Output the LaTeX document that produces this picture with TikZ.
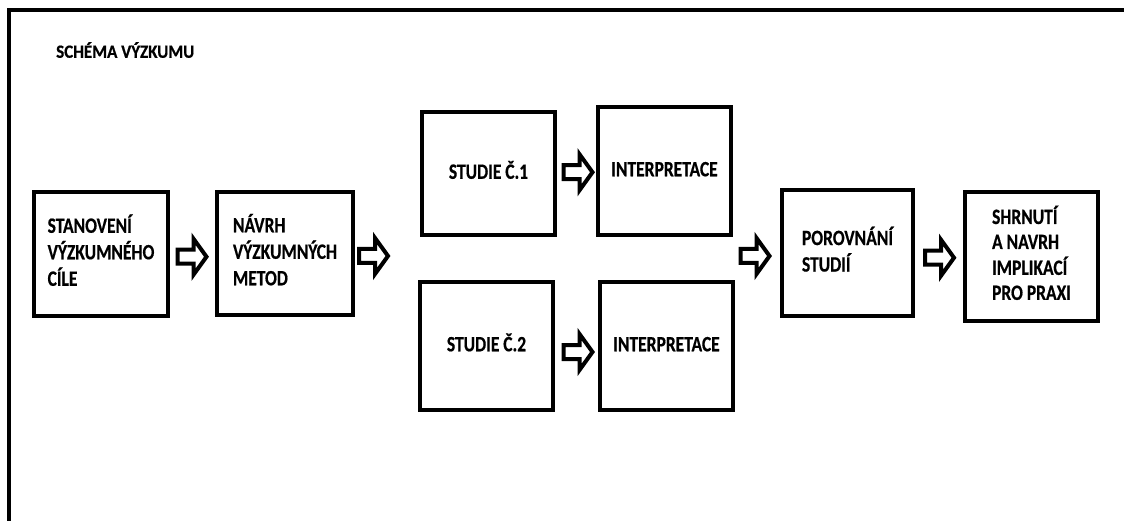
\documentclass[tikz,border=0pt]{standalone}
\usepackage{fontspec}
\usepackage{graphicx}
\setmainfont{Carlito}[BoldFeatures={FakeBold=0.6}]
\usetikzlibrary{calc}
\newcommand{\blockarrow}[1]{\draw[barrow] #1 ++(-15,-7) -- ++(16,0) -- ++(0,-11) -- ++(13,18) -- ++(-13,18) -- ++(0,-11) -- ++(-16,0) -- cycle;}
\newcommand{\tx}[1]{\scalebox{1}[1.25]{\begin{tabular}{@{}l@{}}#1\end{tabular}}}
\begin{document}
\begin{tikzpicture}[x=1pt,y=-1pt,
  box/.style={draw, line width=4pt, align=left, inner sep=0pt,
    font=\bfseries\fontsize{17.5}{21.2}\selectfont},
  barrow/.style={draw, line width=4pt, fill=white, line join=miter}]
\useasboundingbox (0,0) rectangle (1124,521);
\draw[line width=4.5pt] (9,521) -- (9,10) -- (1124,10);
\node[anchor=west, inner sep=0pt, font=\bfseries\fontsize{17}{20}\selectfont] (title) at (56,50) {\scalebox{1}[1.1]{SCHÉMA VÝZKUMU}};
\node[box, minimum width=134pt, minimum height=124pt] (b1) at (101,254) {\tx{STANOVENÍ\\VÝZKUMNÉHO\\CÍLE}};
\node[box, minimum width=136pt, minimum height=123pt] (b2) at (285,253.5) {\tx{NÁVRH\\VÝZKUMNÝCH\\METOD}};
\node[box, minimum width=133pt, minimum height=123pt] (s1) at (488.5,173.5) {\tx{STUDIE Č.1}};
\node[box, minimum width=133pt, minimum height=128pt] (i1) at (664.5,171) {\tx{INTERPRETACE}};
\node[box, minimum width=133pt, minimum height=128pt] (s2) at (486.5,346) {\tx{STUDIE Č.2}};
\node[box, minimum width=133pt, minimum height=128pt] (i2) at (666.5,346) {\tx{INTERPRETACE}};
\node[box, minimum width=131pt, minimum height=126pt] (p) at (847.5,253) {\tx{POROVNÁNÍ\\STUDIÍ}};
\node[box, minimum width=133pt, minimum height=129pt, font=\bfseries\fontsize{17.5}{20}\selectfont] (sh) at (1031.5,256.5) {\tx{SHRNUTÍ\\A NAVRH\\IMPLIKACÍ\\PRO PRAXI}};
\blockarrow{($(b1.east)!0.5!(b2.west)+(0,3)$)}
\blockarrow{($(b2.east)+(19,2.5)$)}
\blockarrow{($(s1.east)!0.5!(i1.west)+(2,0)$)}
\blockarrow{($(s2.east)!0.5!(i2.west)+(2,6)$)}
\blockarrow{($(p.west)+(-24.5,3)$)}
\blockarrow{($(p.east)!0.5!(sh.west)+(1,3)$)}
\end{tikzpicture}
\end{document}
